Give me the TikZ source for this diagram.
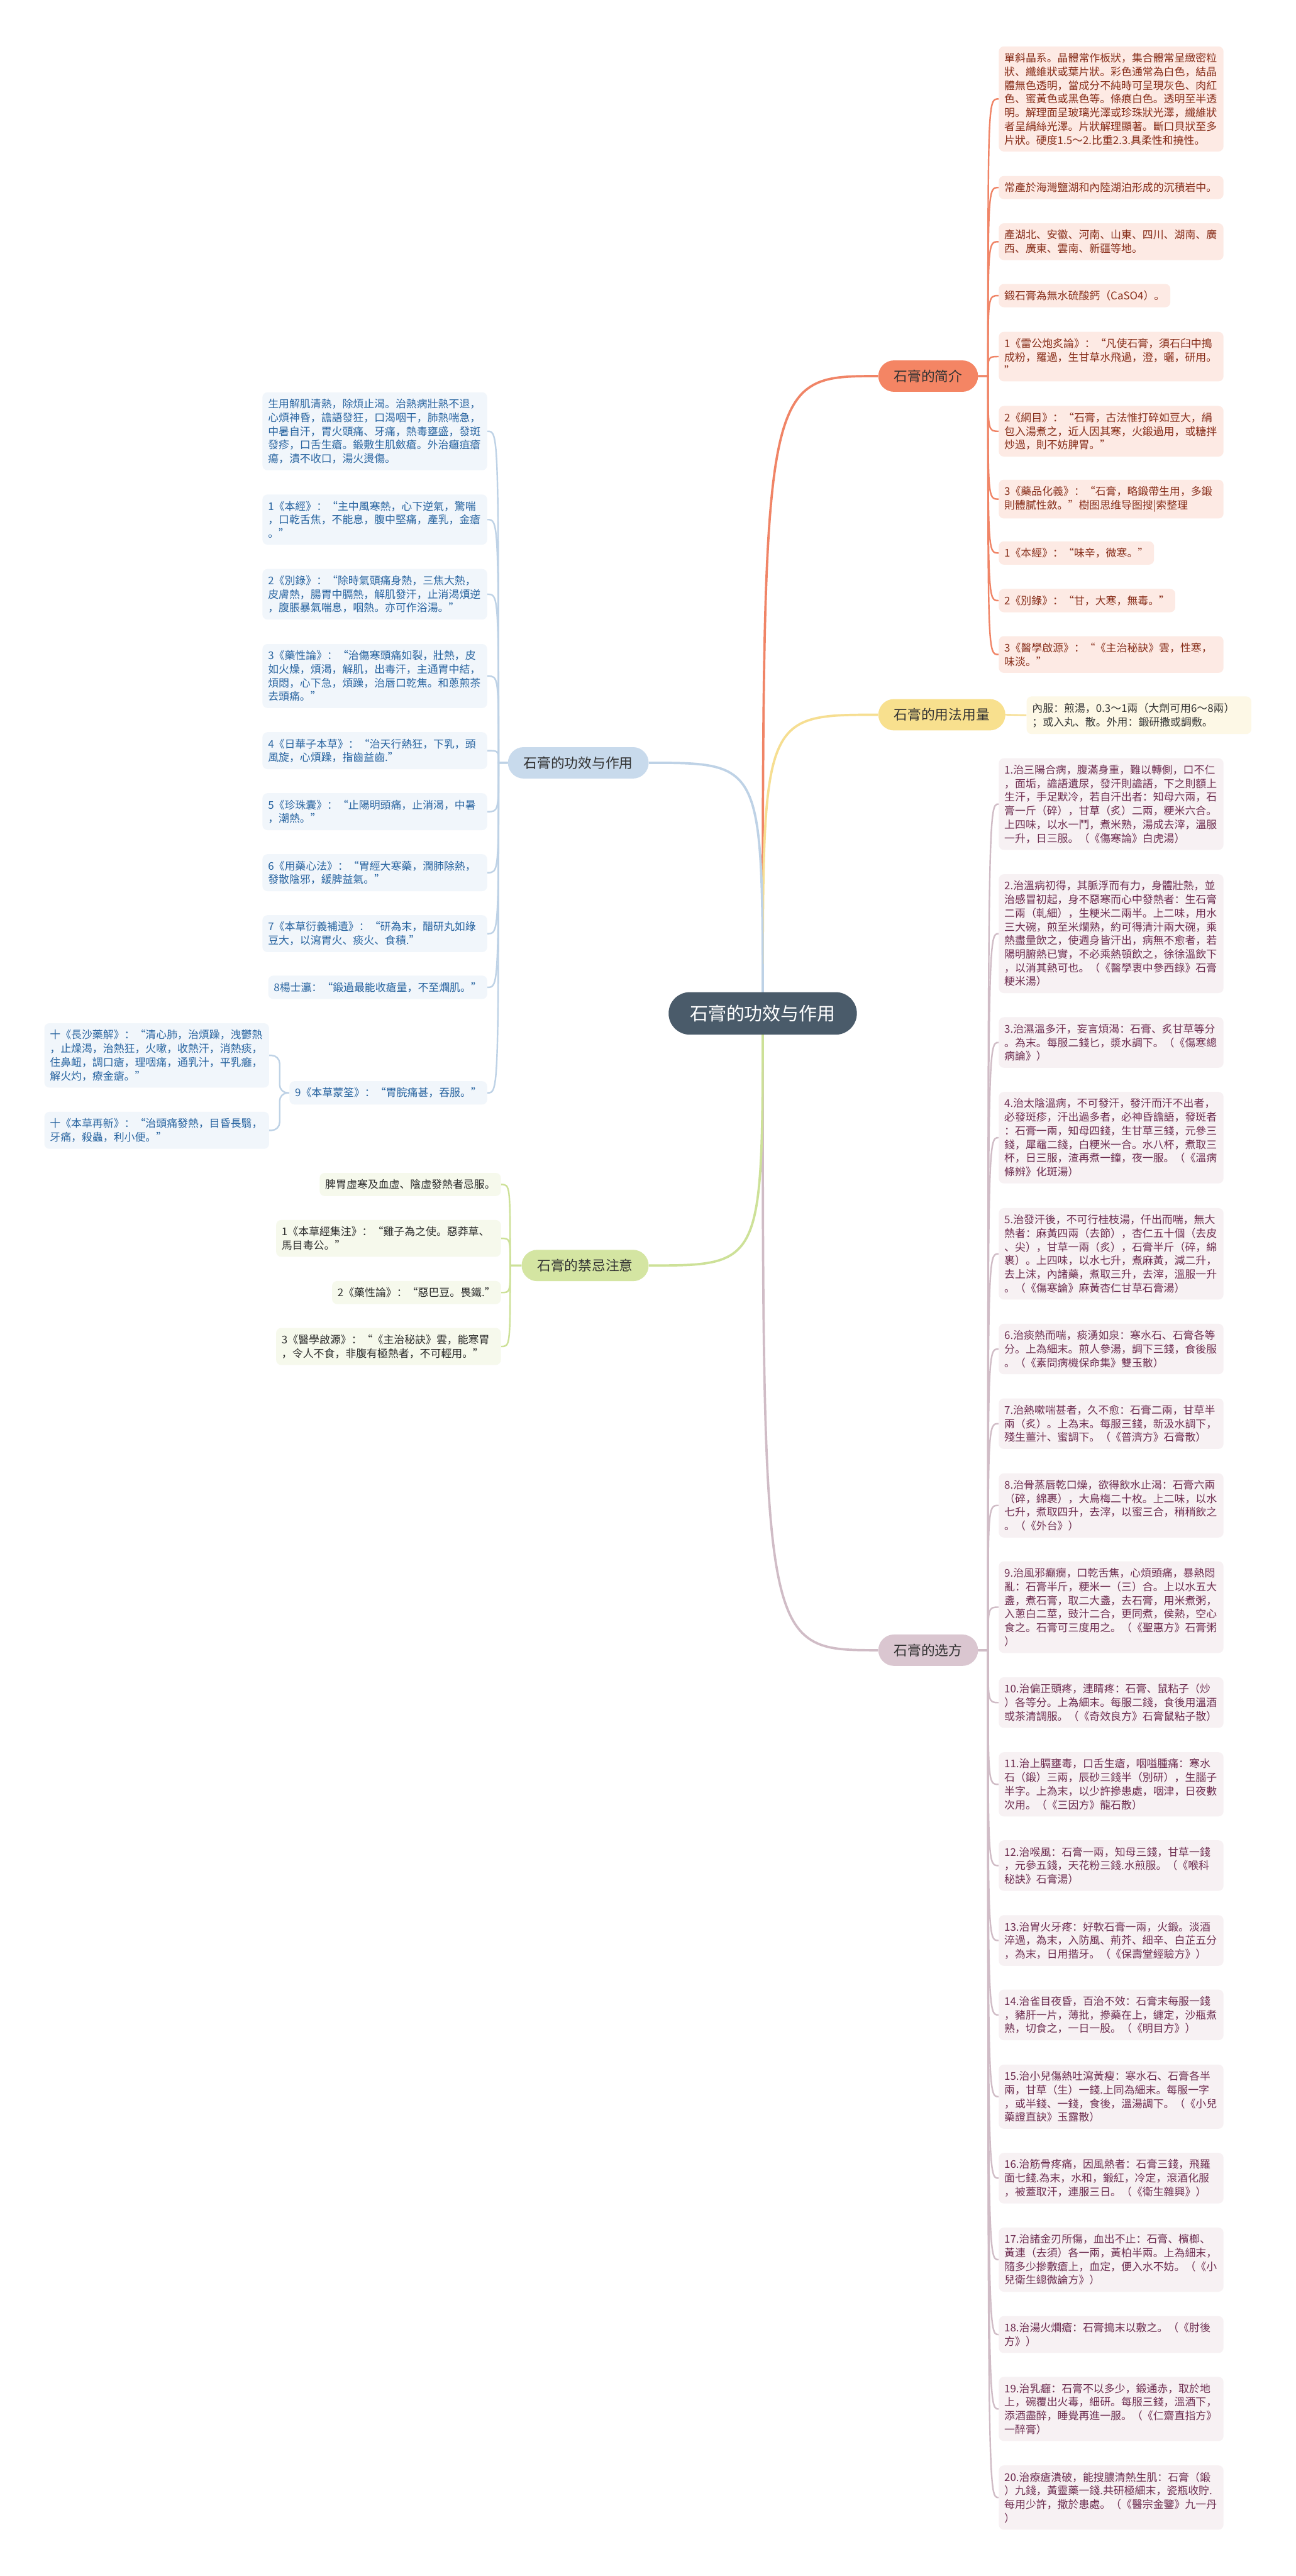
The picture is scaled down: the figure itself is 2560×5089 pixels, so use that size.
\documentclass[tikz,border=0pt]{standalone}
\usepackage{fontspec}
\setmainfont{Noto Sans CJK SC}
\usetikzlibrary{backgrounds}
\definecolor{cC}{RGB}{74,91,106}
\definecolor{brT}{RGB}{50,50,50}
\definecolor{iN}{RGB}{244,133,100}
\definecolor{iLn}{RGB}{240,132,102}
\definecolor{iF}{RGB}{253,234,228}
\definecolor{iT}{RGB}{135,45,25}
\definecolor{uN}{RGB}{248,224,142}
\definecolor{uLn}{RGB}{246,222,145}
\definecolor{uF}{RGB}{253,248,230}
\definecolor{uT}{RGB}{51,51,51}
\definecolor{sN}{RGB}{218,198,208}
\definecolor{sLn}{RGB}{208,188,198}
\definecolor{sF}{RGB}{247,241,243}
\definecolor{sT}{RGB}{110,45,80}
\definecolor{fN}{RGB}{200,218,236}
\definecolor{fLn}{RGB}{190,210,230}
\definecolor{fF}{RGB}{241,246,251}
\definecolor{fT}{RGB}{40,100,160}
\definecolor{jN}{RGB}{212,229,162}
\definecolor{jLn}{RGB}{205,225,152}
\definecolor{jF}{RGB}{246,249,236}
\definecolor{jT}{RGB}{45,45,45}
\begin{document}
\begin{tikzpicture}[x=0.5pt,y=-0.5pt,
  leaf/.style={rounded corners=5pt, inner xsep=5.5pt, inner ysep=6.5pt, align=left, font=\fontsize{10.5pt}{13.5pt}\selectfont},
  wide/.style={text width=211pt},
  iL/.style={leaf, fill=iF, text=iT, anchor=west},
  uL/.style={leaf, fill=uF, text=uT, anchor=west},
  sL/.style={leaf, fill=sF, text=sT, anchor=west},
  fL/.style={leaf, fill=fF, text=fT, anchor=east},
  jL/.style={leaf, fill=jF, text=jT, anchor=east},
  br/.style={rounded corners=15.5pt, inner xsep=15.5pt, inner ysep=0pt, minimum height=31pt, font=\fontsize{13.5pt}{16pt}\selectfont, text=brT},
  mline/.style={line width=2.3pt},
  lline/.style={line width=1.5pt}]
\useasboundingbox (0,0) rectangle (2560,5089);

% center
\node[fill=cC, text=white, rounded corners=21pt, inner xsep=21pt, inner ysep=0pt, minimum height=42pt, font=\fontsize{18pt}{22pt}\selectfont] (cn) at (1507,2002) {石膏的功效与作用};

% branches
\node[br, fill=iN, anchor=west] (bI) at (1735,743) {石膏的简介};
\node[br, fill=uN, anchor=west] (bU) at (1735,1412) {石膏的用法用量};
\node[br, fill=sN, anchor=west] (bS) at (1735,3260) {石膏的选方};
\node[br, fill=fN, anchor=east] (bF) at (1282,1507) {石膏的功效与作用};
\node[br, fill=jN, anchor=east] (bJ) at (1282,2500) {石膏的禁忌注意};

\coordinate (tI) at (1952,743);
\coordinate (tS) at (1952,3260);
\coordinate (tF) at (985,1507);
\coordinate (tJ) at (1008,2500);

% intro leaves
\node[iL, wide] (L1) at (1973,195.5) {單斜晶系。晶體常作板狀，集合體常呈緻密粒\\狀、纖維狀或葉片狀。彩色通常為白色，結晶\\體無色透明，當成分不純時可呈現灰色、肉紅\\色、蜜黃色或黑色等。條痕白色。透明至半透\\明。解理面呈玻璃光澤或珍珠狀光澤，纖維狀\\者呈絹絲光澤。片狀解理顯著。斷口貝狀至多\\片狀。硬度1.5～2.比重2.3.具柔性和撓性。};
\node[iL, wide] (L2) at (1973,370.5) {常產於海灣鹽湖和內陸湖泊形成的沉積岩中。};
\node[iL, wide] (L3) at (1973,477.5) {產湖北、安徽、河南、山東、四川、湖南、廣\\西、廣東、雲南、新疆等地。};
\node[iL] (L4) at (1973,584) {鍛石膏為無水硫酸鈣（CaSO4）。};
\node[iL, wide] (L5) at (1973,704.5) {1《雷公炮炙論》：“凡使石膏，須石臼中搗\\成粉，羅過，生甘草水飛過，澄，曬，研用。\\”};
\node[iL, wide] (L6) at (1973,852) {2《綱目》：“石膏，古法惟打碎如豆大，絹\\包入湯煮之，近人因其寒，火鍛過用，或糖拌\\炒過，則不妨脾胃。”};
\node[iL, wide] (L7) at (1973,986) {3《藥品化義》：“石膏，略鍛帶生用，多鍛\\則體膩性斂。”樹图思维导图搜|索整理};
\node[iL] (L8) at (1973,1092.5) {1《本經》：“味辛，微寒。”};
\node[iL] (L9) at (1973,1186.5) {2《別錄》：“甘，大寒，無毒。”};
\node[iL, wide] (L10) at (1973,1293) {3《醫學啟源》：“《主治秘訣》雲，性寒，\\味淡。”};

% usage
\node[uL, wide] (U1) at (2028,1413) {內服：煎湯，0.3～1兩（大劑可用6～8兩）\\；或入丸、散。外用：鍛研撒或調敷。};

% prescriptions
\node[sL, wide] (S1) at (1973,1588.5) {1.治三陽合病，腹滿身重，難以轉側，口不仁\\，面垢，譫語遺尿，發汗則譫語，下之則額上\\生汗，手足默冷，若自汗出者：知母六兩，石\\膏一斤（碎），甘草（炙）二兩，粳米六合。\\上四味，以水一鬥，煮米熟，湯成去滓，溫服\\一升，日三服。（《傷寒論》白虎湯）};
\node[sL, wide] (S2) at (1973,1844.5) {2.治溫病初得，其脈浮而有力，身體壯熱，並\\治感冒初起，身不惡寒而心中發熱者：生石膏\\二兩（軋細），生粳米二兩半。上二味，用水\\三大碗，煎至米爛熟，約可得清汁兩大碗，乘\\熱盡量飲之，使週身皆汗出，病無不愈者，若\\陽明腑熱已實，不必乘熱頓飲之，徐徐溫飲下\\，以消其熱可也。（《醫學衷中參西錄》石膏\\粳米湯）};
\node[sL, wide] (S3) at (1973,2059.5) {3.治濕溫多汗，妄言煩渴：石膏、炙甘草等分\\。為末。每服二錢匕，漿水調下。（《傷寒總\\病論》）};
\node[sL, wide] (S4) at (1973,2247.5) {4.治太陰溫病，不可發汗，發汗而汗不出者，\\必發斑疹，汗出過多者，必神昏譫語，發斑者\\：石膏一兩，知母四錢，生甘草三錢，元參三\\錢，犀黿二錢，白粳米一合。水八杯，煮取三\\杯，日三服，渣再煮一鐘，夜一服。（《溫病\\條辨》化斑湯）};
\node[sL, wide] (S5) at (1973,2477) {5.治發汗後，不可行桂枝湯，仟出而喘，無大\\熱者：麻黃四兩（去節），杏仁五十個（去皮\\、尖），甘草一兩（炙），石膏半斤（碎，綿\\裹）。上四味，以水七升，煮麻黃，減二升，\\去上沫，內諸藥，煮取三升，去滓，溫服一升\\。（《傷寒論》麻黃杏仁甘草石膏湯）};
\node[sL, wide] (S6) at (1973,2665) {6.治痰熱而喘，痰湧如泉：寒水石、石膏各等\\分。上為細末。煎人參湯，調下三錢，食後服\\。（《素問病機保命集》雙玉散）};
\node[sL, wide] (S7) at (1973,2812.5) {7.治熱嗽喘甚者，久不愈：石膏二兩，甘草半\\兩（炙）。上為末。每服三錢，新汲水調下，\\殘生薑汁、蜜調下。（《普濟方》石膏散）};
\node[sL, wide] (S8) at (1973,2974) {8.治骨蒸唇乾口燥，欲得飲水止渴：石膏六兩\\（碎，綿裹），大烏梅二十枚。上二味，以水\\七升，煮取四升，去滓，以蜜三合，稍稍飲之\\。（《外台》）};
\node[sL, wide] (S9) at (1973,3175) {9.治風邪癲癇，口乾舌焦，心煩頭痛，暴熱悶\\亂：石膏半斤，粳米一（三）合。上以水五大\\盞，煮石膏，取二大盞，去石膏，用米煮粥，\\入蔥白二莖，豉汁二合，更同煮，侯熱，空心\\食之。石膏可三度用之。（《聖惠方》石膏粥\\）};
\node[sL, wide] (S10) at (1973,3363.5) {10.治偏正頭疼，連睛疼：石膏、鼠粘子（炒\\）各等分。上為細末。每服二錢，食後用溫酒\\或茶清調服。（《奇效良方》石膏鼠粘子散）};
\node[sL, wide] (S11) at (1973,3525) {11.治上膈壅毒，口舌生瘡，咽嗌腫痛：寒水\\石（鍛）三兩，辰砂三錢半（別研），生腦子\\半字。上為末，以少許摻患處，咽津，日夜數\\次用。（《三因方》龍石散）};
\node[sL, wide] (S12) at (1973,3685.5) {12.治喉風：石膏一兩，知母三錢，甘草一錢\\，元參五錢，天花粉三錢.水煎服。（《喉科\\秘訣》石膏湯）};
\node[sL, wide] (S13) at (1973,3833.5) {13.治胃火牙疼：好軟石膏一兩，火鍛。淡酒\\淬過，為末，入防風、荊芥、細辛、白芷五分\\，為末，日用揩牙。（《保壽堂經驗方》）};
\node[sL, wide] (S14) at (1973,3980.5) {14.治雀目夜昏，百治不效：石膏末每服一錢\\，豬肝一片，薄批，摻藥在上，纏定，沙瓶煮\\熟，切食之，一日一股。（《明目方》）};
\node[sL, wide] (S15) at (1973,4142) {15.治小兒傷熱吐瀉黃瘦：寒水石、石膏各半\\兩，甘草（生）一錢.上同為細末。每服一字\\，或半錢、一錢，食後，溫湯調下。（《小兒\\藥證直訣》玉露散）};
\node[sL, wide] (S16) at (1973,4303) {16.治筋骨疼痛，因風熱者：石膏三錢，飛羅\\面七錢.為末，水和，鍛紅，冷定，滾酒化服\\，被蓋取汗，連服三日。（《衛生雜興》）};
\node[sL, wide] (S17) at (1973,4464) {17.治諸金刃所傷，血出不止：石膏、檳榔、\\黃連（去須）各一兩，黃柏半兩。上為細末，\\隨多少摻敷瘡上，血定，便入水不妨。（《小\\兒衛生總微論方》）};
\node[sL, wide] (S18) at (1973,4612) {18.治湯火爛瘡：石膏搗末以敷之。（《肘後\\方》）};
\node[sL, wide] (S19) at (1973,4759) {19.治乳癰：石膏不以多少，鍛通赤，取於地\\上，碗覆出火毒，細研。每服三錢，溫酒下，\\添酒盡醉，睡覺再進一服。（《仁齋直指方》\\一醉膏）};
\node[sL, wide] (S20) at (1973,4934) {20.治療瘡潰破，能搜膿清熱生肌：石膏（鍛\\）九錢，黃靈藥一錢.共研極細末，瓷瓶收貯.\\每用少許，撒於患處。（《醫宗金鑒》九一丹\\）};

% effects (left)
\node[fL, wide] (F0) at (963,852) {生用解肌清熱，除煩止渴。治熱病壯熱不退，\\心煩神昏，譫語發狂，口渴咽干，肺熱喘急，\\中暑自汗，胃火頭痛、牙痛，熱毒壅盛，發斑\\發疹，口舌生瘡。鍛敷生肌斂瘡。外治癰疽瘡\\瘍，潰不收口，湯火燙傷。};
\node[fL, wide] (F1) at (963,1026.5) {1《本經》：“主中風寒熱，心下逆氣，驚喘\\，口乾舌焦，不能息，腹中堅痛，產乳，金瘡\\。”};
\node[fL, wide] (F2) at (963,1174) {2《別錄》：“除時氣頭痛身熱，三焦大熱，\\皮膚熱，腸胃中膈熱，解肌發汗，止消渴煩逆\\，腹脹暴氣喘息，咽熱。亦可作浴湯。”};
\node[fL, wide] (F3) at (963,1335.5) {3《藥性論》：“治傷寒頭痛如裂，壯熱，皮\\如火燥，煩渴，解肌，出毒汗，主通胃中結，\\煩悶，心下急，煩躁，治唇口乾焦。和蔥煎茶\\去頭痛。”};
\node[fL, wide] (F4) at (963,1483) {4《日華子本草》：“治天行熱狂，下乳，頭\\風旋，心煩躁，指齒益齒.”};
\node[fL, wide] (F5) at (963,1603.5) {5《珍珠囊》：“止陽明頭痛，止消渴，中暑\\，潮熱。”};
\node[fL, wide] (F6) at (963,1724) {6《用藥心法》：“胃經大寒藥，潤肺除熱，\\發散陰邪，緩脾益氣。”};
\node[fL, wide] (F7) at (963,1844.5) {7《本草衍義補遺》：“研為末，醋研丸如綠\\豆大，以瀉胃火、痰火、食積.”};
\node[fL] (F8) at (963,1950.5) {8楊士瀛：“鍛過最能收瘡量，不至爛肌。”};
\node[fL] (F9) at (963,2159) {9《本草蒙筌》：“胃脘痛甚，吞服。”};
\node[fL, wide] (Fa) at (532,2085) {十《長沙藥解》：“清心肺，治煩躁，洩鬱熱\\，止燥渴，治熱狂，火嗽，收熱汗，消熱痰，\\住鼻衄，調口瘡，理咽痛，通乳汁，平乳癰，\\解火灼，療金瘡。”};
\node[fL, wide] (Fb) at (532,2233) {十《本草再新》：“治頭痛發熱，目昏長翳，\\牙痛，殺蟲，利小便。”};

% cautions
\node[jL] (J0) at (990,2340) {脾胃虛寒及血虛、陰虛發熱者忌服。};
\node[jL, wide] (J1) at (990,2446.5) {1《本草經集注》：“雞子為之使。惡莽草、\\馬目毒公。”};
\node[jL] (J2) at (990,2553.5) {2《藥性論》：“惡巴豆。畏鐵.”};
\node[jL, wide] (J3) at (990,2660) {3《醫學啟源》：“《主治秘訣》雲，能寒胃\\，令人不食，非腹有極熱者，不可輕用。”};

\begin{pgfonlayer}{background}
\fill[white] (0,0) rectangle (2560,5089);
% main branches
\draw[mline, iLn] (cn.center) .. controls (cn.center |- bI.west) .. (bI.west);
\draw[mline, uLn] (cn.center) .. controls (cn.center |- bU.west) .. (bU.west);
\draw[mline, sLn] (cn.center) .. controls (cn.center |- bS.west) .. (bS.west);
\draw[mline, fLn] (cn.center) .. controls (cn.center |- bF.east) .. (bF.east);
\draw[mline, jLn] (cn.center) .. controls (cn.center |- bJ.east) .. (bJ.east);
% leaves
\foreach \n in {L1,L2,L3,L4,L5,L6,L7,L8,L9,L10}
  \draw[lline, iLn] (bI.east) -- (tI) .. controls (tI |- \n.west) .. (\n.west);
\draw[lline, uLn] (bU.east) -- (U1.west);
\foreach \n in {S1,S2,S3,S4,S5,S6,S7,S8,S9,S10,S11,S12,S13,S14,S15,S16,S17,S18,S19,S20}
  \draw[lline, sLn] (bS.east) -- (tS) .. controls (tS |- \n.west) .. (\n.west);
\foreach \n in {F0,F1,F2,F3,F4,F5,F6,F7,F8,F9}
  \draw[lline, fLn] (bF.west) -- (tF) .. controls (tF |- \n.east) .. (\n.east);
\draw[lline, fLn, rounded corners=8pt] (F9.west) -- ++(-19,0) |- (Fa.east);
\draw[lline, fLn, rounded corners=8pt] (F9.west) -- ++(-19,0) |- (Fb.east);
\foreach \n in {J0,J1,J2,J3}
  \draw[lline, jLn] (bJ.west) -- (tJ) .. controls (tJ |- \n.east) .. (\n.east);
\end{pgfonlayer}
\end{tikzpicture}
\end{document}
